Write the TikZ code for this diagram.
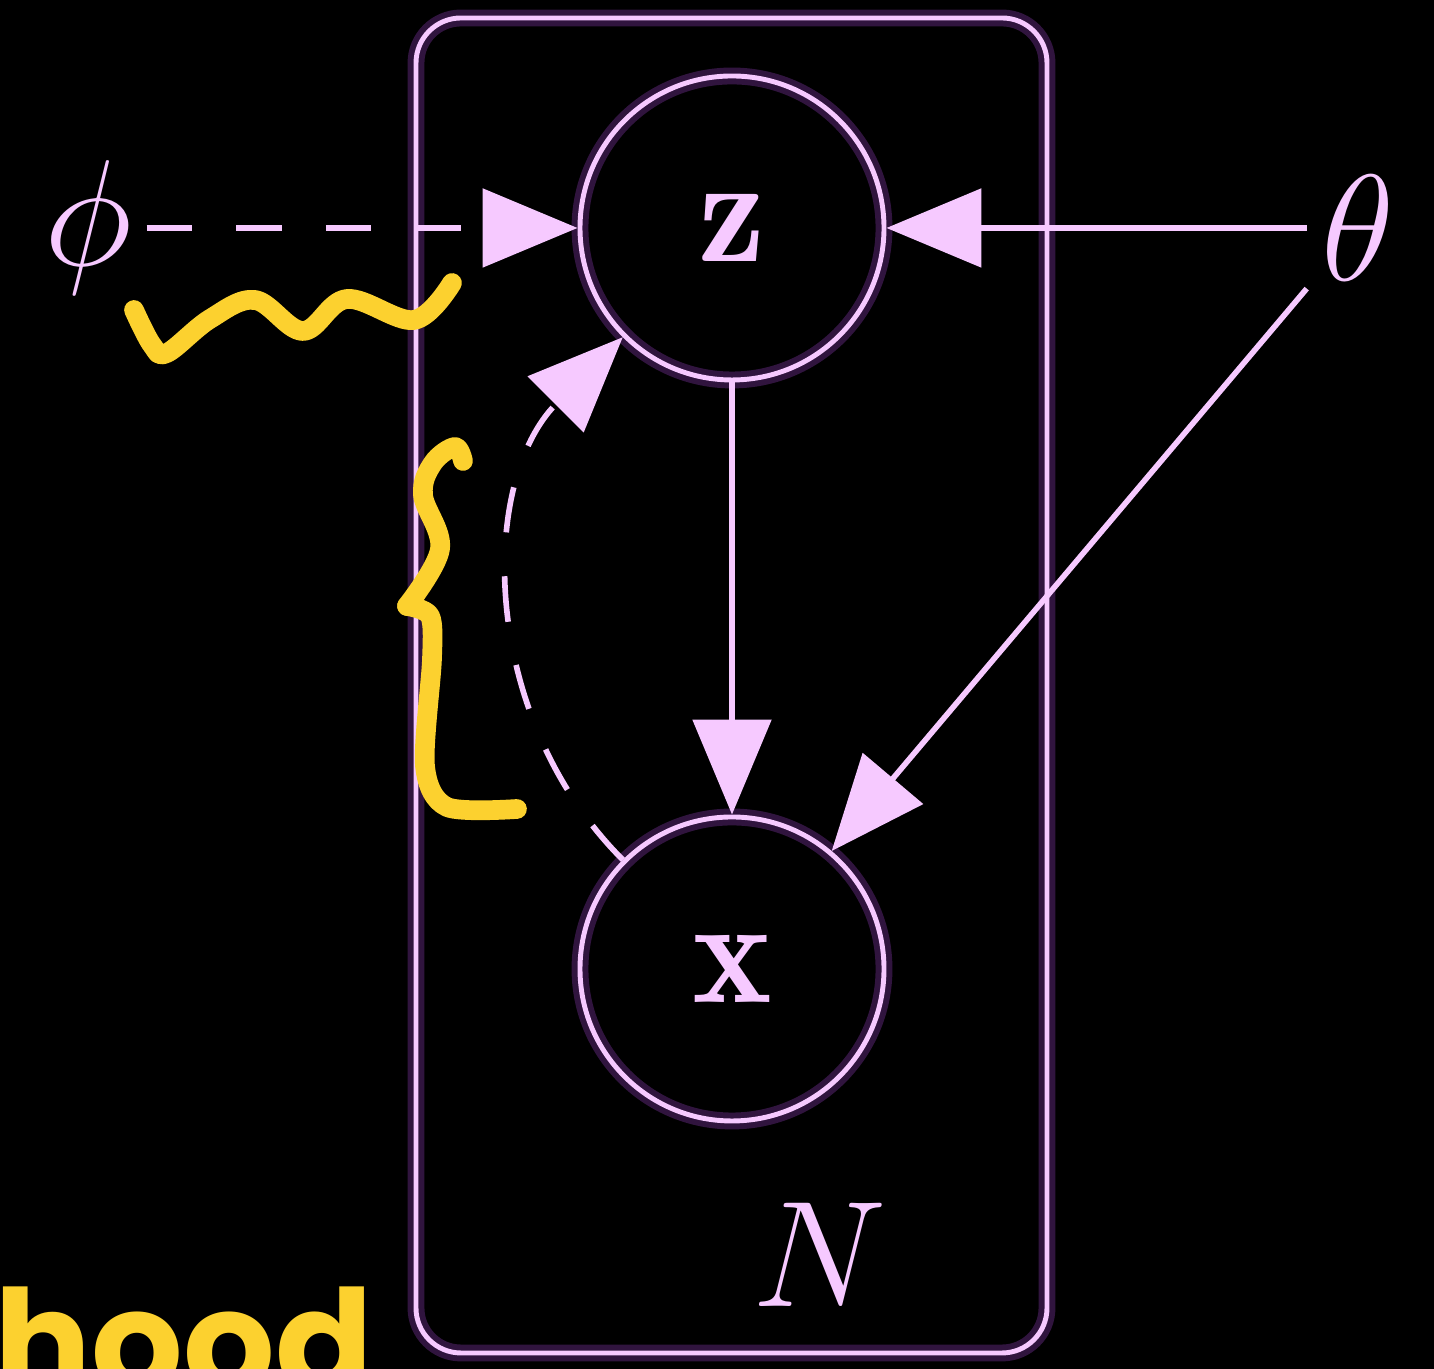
\RequirePackage{fix-cm}
\documentclass[tikz,border=0pt]{standalone}
\usepackage{amsmath,amssymb}
\usepackage{fontspec}
\usetikzlibrary{arrows.meta}
\newfontfamily\handfont{Poppins}
\definecolor{lilac}{HTML}{F6C9FF}
\definecolor{lilacglow}{HTML}{6B2E8A}
\definecolor{markyel}{HTML}{FCD12F}

\begin{document}
\begin{tikzpicture}[font=\fontsize{43}{50}\selectfont,
       glow/.style={preaction={draw=lilacglow,line width=4.8pt,opacity=0.45}},
       latent/.style={circle,draw=lilac,glow,line width=1.4pt,minimum size=3.04cm,inner sep=0pt,text=lilac},
       param/.style={inner sep=4pt,text=lilac},
       plate/.style={draw=lilac,glow,line width=1.4pt,rounded corners=0.45cm,minimum width=6.31cm,minimum height=13.35cm},
       edge/.style={-{Triangle[length=9.5mm,width=7.8mm]},color=lilac,line width=1.6pt},
       infer/.style={dash pattern=on 13pt off 12.5pt},
       marker/.style={draw=markyel,line width=5.6pt,line cap=round,line join=round}]
      \fill[black] (0,0) rectangle (14.34,13.69);
      \clip (0,0) rectangle (14.34,13.69);
      % plate and nodes
      \node[plate] (P) at (7.315,6.835) {};
      \node[latent] (z) at (7.32,11.41) {$\mathbf{z}$};
      \node[latent] (x) at (7.32,4.00) {$\mathbf{x}$};
      \node[param] (phi) at (0.88,11.41) {$\phi$};
      \node[param] (theta) at (13.58,11.41) {$\theta$};
      \node[text=lilac] (N) at (8.20,1.14) {$N$};
      % edges
      \draw[edge,infer] (phi) -- (z);
      \draw[edge] (theta) -- (z);
      \draw[edge] (theta) -- (x);
      \draw[edge] (z) -- (x);
      \draw[edge,infer] (x) to[bend left=45] (z);
      % hand marks
      \draw[marker] plot[smooth,tension=0.6] coordinates {(1.34,10.59) (1.52,10.24) (1.67,10.16) (2.10,10.50) (2.55,10.69) (3.03,10.38) (3.47,10.70) (4.14,10.49) (4.52,10.86)};
      \draw[marker] plot[smooth,tension=0.6] coordinates {(4.63,9.08) (4.55,9.22) (4.33,9.06) (4.23,8.74) (4.40,8.20) (4.07,7.63)};
      \draw[marker] plot[smooth,tension=0.5] coordinates {(4.07,7.63) (4.30,7.53) (4.32,7.10) (4.25,6.03) (4.47,5.62) (5.17,5.60)};
      \node[text=markyel,font=\handfont\bfseries\fontsize{41}{46}\selectfont,anchor=base west,inner sep=0pt] (hw) at (-0.06,-0.25) {hood};
    \end{tikzpicture}
\end{document}
